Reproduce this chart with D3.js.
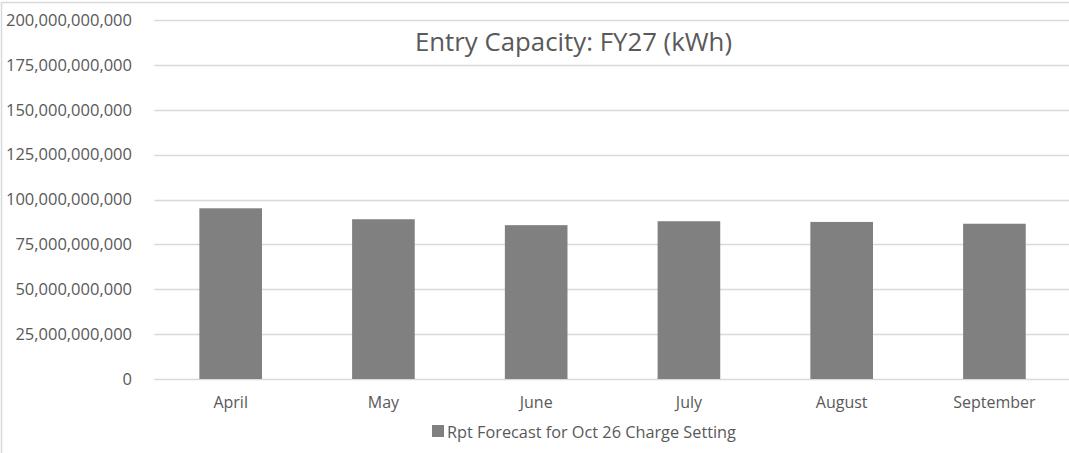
<!DOCTYPE html>
<html>
<head>
<meta charset="utf-8">
<script src="https://cdn.jsdelivr.net/npm/d3@7"></script>
<style>
	body { margin: 0; background: #fff; }
	svg text { font-family: 'Open Sans', sans-serif; fill: #595959; }
</style>
</head>
<body>
<svg id="chart" width="1069" height="453"></svg>
<script>
const months = ['April', 'May', 'June', 'July', 'August', 'September'];
const forecast = [95.1e9, 89.0e9, 85.7e9, 87.9e9, 87.5e9, 86.5e9];
const yTicks = [0, 25e9, 50e9, 75e9, 100e9, 125e9, 150e9, 175e9, 200e9];
const seriesName = 'Rpt Forecast for Oct 26 Charge Setting';
const title = 'Entry Capacity: FY27 (kWh)';

const svg = d3.select('#chart');

// outer chart border (the picture is cropped on the right and bottom)
svg.append('rect')
	.attr('x', 1.5)
	.attr('y', 2.5)
	.attr('width', 1100)
	.attr('height', 500)
	.attr('fill', 'none')
	.attr('stroke', '#d9d9d9')
	.attr('stroke-width', 1.5);

const x = d3.scaleBand()
	.domain(months)
	.range([154.3, 1070.8])
	.paddingInner(0.59)
	.paddingOuter(0.295);

const y = d3.scaleLinear()
	.domain([0, 200e9])
	.range([379, 20]);

// gridlines
svg.append('g')
	.selectAll('line')
	.data(yTicks)
	.enter().append('line')
	.attr('x1', 154.3)
	.attr('x2', 1069)
	.attr('y1', d => Math.round(y(d)) + 0.5)
	.attr('y2', d => Math.round(y(d)) + 0.5)
	.attr('stroke', '#d9d9d9')
	.attr('stroke-width', 1.3);

// y axis labels
const yAxis = d3.axisLeft(y)
	.tickValues(yTicks)
	.tickFormat(d3.format(','))
	.tickSize(0)
	.tickPadding(0);

const yg = svg.append('g')
	.attr('transform', 'translate(132,0)')
	.call(yAxis);
yg.select('.domain').remove();
yg.selectAll('text')
	.attr('font-size', '16.5px')
	.attr('font-family', null)
	.attr('fill', '#595959');

// bars
svg.append('g')
	.selectAll('rect')
	.data(forecast)
	.enter().append('rect')
	.attr('x', (d, i) => x(months[i]))
	.attr('y', d => y(d))
	.attr('width', x.bandwidth())
	.attr('height', d => y(0) - y(d))
	.attr('fill', '#808080');

// category labels
const xAxis = d3.axisBottom(x)
	.tickSize(0)
	.tickPadding(0);

const xg = svg.append('g')
	.attr('transform', 'translate(0,397)')
	.call(xAxis);
xg.select('.domain').remove();
xg.selectAll('text')
	.attr('font-size', '16px')
	.attr('font-family', null)
	.attr('fill', '#595959');

// title
svg.append('text')
	.attr('x', 573.5)
	.attr('y', 51)
	.attr('text-anchor', 'middle')
	.attr('font-size', '25.8px')
	.text(title);

// legend
svg.append('rect')
	.attr('x', 432)
	.attr('y', 425)
	.attr('width', 12)
	.attr('height', 12)
	.attr('fill', '#808080');
svg.append('text')
	.attr('x', 447)
	.attr('y', 438)
	.attr('font-size', '16.3px')
	.text(seriesName);
</script>
</body>
</html>
